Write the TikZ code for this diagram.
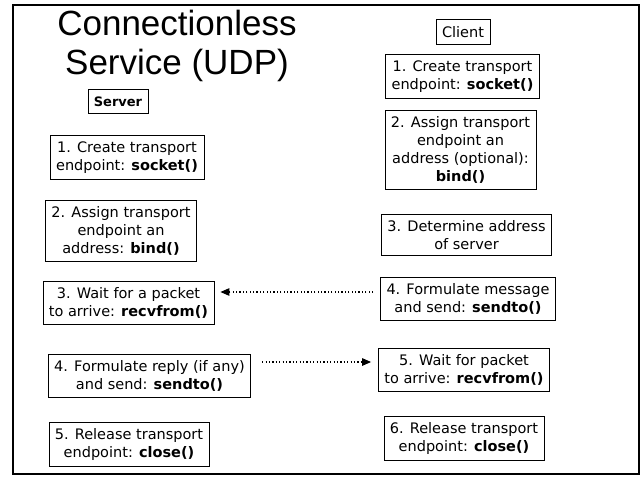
\documentclass[tikz,border=0pt]{standalone}
\usepackage{fontspec}
\setmainfont{DejaVu Sans}
\newfontfamily\titlefont{Liberation Sans}
\usetikzlibrary{arrows.meta, positioning}

\begin{document}
\begin{tikzpicture}[
  x=1pt, y=-1pt,
  >={Triangle[length=9pt, width=7.5pt]},
  stepbox/.style={draw, rectangle, fill=white, inner xsep=6pt, inner ysep=6pt, font=\fontsize{14.5}{18}\selectfont, align=center, line width=0.7pt},
  rolebox/.style={draw, rectangle, fill=white, inner xsep=6pt, inner ysep=7pt, line width=0.7pt},
  msg/.style={->, line width=1.2pt, dash pattern=on 1.2pt off 2.2pt}
]
\useasboundingbox (0,0) rectangle (643,477);
\draw[line width=2pt] (13,5) rectangle (639,474);

\node[font=\titlefont\fontsize{35}{39}\selectfont, align=center] (Title) at (177,46) {Connectionless\\Service (UDP)};

% server side
\node[rolebox, font=\fontsize{13}{14}\selectfont\bfseries] (Server) at (118,101.5) {Server};
\node[stepbox] (S_Socket) at (127,157.5) {1. Create transport\\endpoint: \textbf{socket()}};
\node[stepbox] (S_Bind) at (121,231) {2. Assign transport\\endpoint an\\address: \textbf{bind()}};
\node[stepbox] (S_Recv) at (128.5,303) {3. Wait for a packet\\to arrive: \textbf{recvfrom()}};
\node[stepbox] (S_Send) at (149.5,376) {4. Formulate reply (if any)\\and send: \textbf{sendto()}};
\node[stepbox] (S_Close) at (129,444.5) {5. Release transport\\endpoint: \textbf{close()}};

% client side
\node[rolebox, font=\fontsize{14.5}{16}\selectfont] (Client) at (463,32) {Client};
\node[stepbox] (C_Socket) at (462.5,76.5) {1. Create transport\\endpoint: \textbf{socket()}};
\node[stepbox] (C_Bind) at (460.5,150) {2. Assign transport\\endpoint an\\address (optional):\\\textbf{bind()}};
\node[stepbox] (C_Addr) at (466.5,235) {3. Determine address\\of server};
\node[stepbox] (C_Send) at (468,298.5) {4. Formulate message\\and send: \textbf{sendto()}};
\node[stepbox] (C_Recv) at (464,369.5) {5. Wait for packet\\to arrive: \textbf{recvfrom()}};
\node[stepbox] (C_Close) at (464,438.5) {6. Release transport\\endpoint: \textbf{close()}};

\coordinate (Req) at ([shift={(-7pt,6.5pt)}]C_Send.west);
\coordinate (Rep) at ([shift={(11pt,14pt)}]S_Send.east);

\draw[msg, shorten >=6pt] (Req) -- (Req -| S_Recv.east);
\draw[msg, shorten >=7pt] (Rep) -- (Rep -| C_Recv.west);
\end{tikzpicture}
\end{document}
